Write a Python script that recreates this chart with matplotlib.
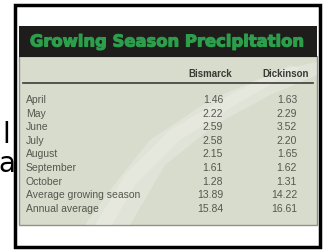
import matplotlib.pyplot as plt
from matplotlib.patches import Rectangle, Polygon
import matplotlib.patheffects as pe

# table data
title = "Growing Season Precipitation"
stations = ["Bismarck", "Dickinson"]
rows = ["April", "May", "June", "July", "August", "September", "October",
        "Average growing season", "Annual average"]
bismarck = ["1.46", "2.22", "2.59", "2.58", "2.15", "1.61", "1.28", "13.89", "15.84"]
dickinson = ["1.63", "2.29", "3.52", "2.20", "1.65", "1.62", "1.31", "14.22", "16.61"]

fig = plt.figure(figsize=(3.25, 2.5), dpi=100)
ax = fig.add_axes([0, 0, 1, 1])
ax.set_xlim(0, 325)
ax.set_ylim(250, 0)
ax.axis('off')

# clipped text from the page on the left
ax.text(6, 143, "l", fontsize=20, family='DejaVu Sans', ha='center', va='baseline', color='black')
ax.text(6.5, 172, "a", fontsize=20, family='DejaVu Sans', ha='center', va='baseline', color='black')

# outer frame
ax.add_patch(Rectangle((14.5, 4.5), 305.5, 242, facecolor='white', edgecolor='black', lw=2.5, zorder=1))

# light panel + swoosh
ax.add_patch(Rectangle((19, 56), 298, 169, facecolor='#d8dccc', edgecolor='#8f9288', lw=1, zorder=2))
swoosh = [(85, 225), (110, 190), (150, 140), (210, 100), (280, 70), (317, 62), (317, 75),
          (270, 95), (215, 125), (165, 165), (130, 225)]
ax.add_patch(Polygon(swoosh, closed=True, facecolor='white', alpha=0.22, edgecolor='none', zorder=3))
swoosh2 = [(95, 225), (125, 175), (170, 130), (230, 95), (290, 65), (300, 68), (240, 102),
           (180, 140), (135, 185), (112, 225)]
ax.add_patch(Polygon(swoosh2, closed=True, facecolor='white', alpha=0.2, edgecolor='none', zorder=3))

# dark title band
ax.add_patch(Rectangle((19, 26), 298, 31, facecolor='#1e1d1b', edgecolor='none', zorder=4))
ax.text(167, 42, title, fontsize=11.8, fontweight='bold', family='DejaVu Sans',
        color='#2c9e4c', ha='center', va='center', zorder=5,
        path_effects=[pe.withStroke(linewidth=0.8, foreground='#2c9e4c')])

# header row
col_x = [232, 309]
for name, x in zip(stations, col_x):
    ax.text(x, 74, name, fontsize=7, fontweight='bold', family='Liberation Sans',
            color='#3a3a36', ha='right', va='center', zorder=5)
ax.plot([23, 313], [83, 83], color='#3c3d38', lw=1.2, zorder=5)

# body rows
num_x = [223, 297]
for i, label in enumerate(rows):
    y = 100 + i * 13.6
    ax.text(26, y, label, fontsize=7.5, family='Liberation Sans', color='#55574f',
            ha='left', va='center', zorder=5)
    ax.text(num_x[0], y, bismarck[i], fontsize=7.5, family='Liberation Sans', color='#55574f',
            ha='right', va='center', zorder=5)
    ax.text(num_x[1], y, dickinson[i], fontsize=7.5, family='Liberation Sans', color='#55574f',
            ha='right', va='center', zorder=5)

plt.savefig('out.png', dpi=100)
